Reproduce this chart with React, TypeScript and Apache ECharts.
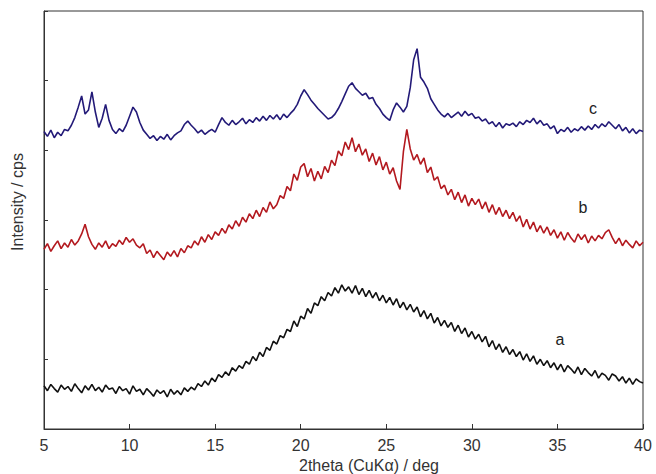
import React, { useEffect, useRef } from "react";
import * as echarts from "echarts";

const xTicks = [5, 10, 15, 20, 25, 30, 35, 40];

// Intensity (arbitrary cps units, offset traces), sampled every 0.2 deg from 5 to 40
const seriesA = [
  62, 55, 64, 58, 53, 63, 57, 61, 54, 65, 58,
  52, 62, 56, 64, 55, 60, 53, 63, 57, 59,
  51, 61, 55, 58, 50, 62, 54, 57,
  49, 58, 53, 47, 56, 51, 55, 46, 57, 50,
  55, 49, 59, 54, 60,
  56, 65, 61, 69, 63,
  73, 68, 78, 74,
  82, 77, 88, 83, 91,
  87, 97, 93, 104, 98,
  110, 104, 117, 113, 126,
  122, 134, 131, 143, 140,
  155, 147, 162, 158,
  173, 166, 181, 177, 190,
  184, 196, 191, 203, 195,
  207, 198, 204, 195, 206,
  193, 202, 190, 199, 188,
  196, 184, 192, 181, 189,
  178, 187, 174, 182, 171,
  179, 168, 175, 161, 170,
  158, 166, 152, 160, 148,
  156, 146, 153, 140, 149,
  137, 145, 132, 140, 129,
  136, 125, 133, 118, 127,
  114, 122, 110, 118, 107,
  114, 104, 111, 99, 108,
  97, 105, 93, 100, 91,
  98, 88, 95, 85, 93,
  82, 91, 86, 80, 89,
  78, 87, 81, 76, 84,
  73, 80, 77, 70, 79,
  76, 69, 75, 66, 73,
  64, 72, 68, 66,
];

const seriesB = [
  258, 266, 255, 263, 270, 259, 267, 261, 272, 264, 270,
  280, 294, 276, 265,
  258, 267, 261, 270, 259, 266,
  262, 271, 265, 275, 268, 273,
  264, 260, 266, 252, 257,
  246, 255, 249, 243, 254, 248,
  256, 247, 259, 253, 263,
  260, 270, 264, 276, 268, 279,
  272, 283, 278, 288, 281, 293, 287,
  299, 291, 304, 297, 309, 302,
  314, 305, 318, 311, 326, 316,
  322, 335, 331, 348, 342,
  366, 357, 376,
  381, 362, 374, 356, 370, 359,
  377, 368, 386, 378, 399,
  392, 412, 401, 418, 398,
  409, 393, 402, 384, 396,
  379, 391, 372, 383, 366,
  375, 356, 344,
  398, 430,
  402, 386, 394, 380, 389,
  368, 376, 357, 362, 345,
  350, 336, 344, 329, 340,
  325, 336, 320, 331, 322,
  330, 316, 326, 311, 322,
  308, 318, 305, 314, 302,
  311, 298, 306, 290, 301,
  287, 297, 283, 292, 281,
  290, 278, 286, 274, 283,
  271, 282, 274, 268, 280,
  272, 279, 267, 277, 270,
  278, 273, 282, 286, 275,
  266, 274, 263, 271, 265,
  260, 270, 263, 268,
];

const seriesC = [
  427, 420, 429, 418, 426, 421, 430,
  428, 436, 447,
  462, 478,
  452, 458, 484, 455, 433, 446, 466, 443, 430,
  424, 431, 427,
  436, 449, 462, 455, 440, 429,
  423, 417, 421, 414, 420,
  416, 423, 415, 421, 425,
  428, 437, 442, 436,
  431, 425, 429, 423, 427,
  430, 426, 437, 447,
  440, 436, 443, 437, 441,
  446, 438, 444, 440, 447,
  442, 449, 443, 450, 445,
  451, 444, 452, 447, 453,
  458, 466, 478,
  487, 480,
  472, 466, 460,
  455, 450, 445, 447,
  452, 460,
  470, 481,
  492, 497,
  489, 484, 479,
  482, 474, 476,
  466, 460, 452, 447, 443,
  458, 468,
  462, 455,
  463, 490, 530, 546, 505, 498, 489,
  474, 466, 458, 452,
  448, 453, 447, 451, 455,
  449, 456, 450, 453, 446,
  448, 442, 445, 438, 441,
  434, 440, 432, 438, 436,
  439, 434, 441, 437, 443,
  440, 446, 438, 443, 436,
  438, 431, 435, 424, 430,
  427, 433, 426, 431, 428,
  434, 429, 435, 430, 437,
  432, 438, 434, 441, 436,
  431, 437, 428, 433, 425,
  431, 424, 429, 427,
];

const traceLabels = ["a", "b", "c"];
const traceColors = ["#111111", "#b3191f", "#231a78"];

const X_MIN = 5;
const X_MAX = 40;

function toPairs(vals: number[]) {
  const n = vals.length;
  return vals.map((v, i) => [X_MIN + (i * (X_MAX - X_MIN)) / (n - 1), v]);
}

export default function App() {
  const ref = useRef<HTMLDivElement>(null);
  useEffect(() => {
    if (!ref.current) return;
    document.body.style.margin = "0";
    const chart = echarts.init(ref.current, undefined, { renderer: "svg" });
    const font = "Liberation Sans, Arial, sans-serif";
    const all = [seriesA, seriesB, seriesC];
    const lbl = (text: string, x: number, y: number) => ({
      type: "text",
      x,
      y,
      style: { text, fontFamily: font, fontSize: 16, fill: "#222", align: "center", verticalAlign: "middle" },
    });
    chart.setOption({
      animation: false,
      backgroundColor: "#ffffff",
      grid: {
        left: 44,
        right: 13,
        top: 11,
        bottom: 45,
        show: true,
        borderColor: "#333",
        borderWidth: 1,
      },
      xAxis: {
        type: "value",
        min: 5,
        max: 40,
        interval: 5,
        axisLine: { show: true, lineStyle: { color: "#333", width: 1 } },
        axisTick: { show: true, inside: true, length: 5, lineStyle: { color: "#333" } },
        axisLabel: {
          fontFamily: font,
          fontSize: 16,
          color: "#333",
          margin: 8,
          formatter: (v: number) => (xTicks.includes(v) ? String(v) : ""),
        },
        splitLine: { show: false },
      },
      yAxis: {
        type: "value",
        min: 0,
        max: 600,
        interval: 100,
        axisLine: { show: true, lineStyle: { color: "#333", width: 1 } },
        axisTick: { show: true, inside: true, length: 4, lineStyle: { color: "#333" } },
        axisLabel: { show: false },
        splitLine: { show: false },
      },
      series: all.map((vals, k) => ({
        type: "line",
        name: traceLabels[k],
        data: toPairs(vals),
        showSymbol: false,
        symbol: "none",
        lineStyle: { color: traceColors[k], width: 1.6 },
        z: 3 - k,
      })),
      graphic: [
        {
          type: "text",
          x: 17,
          y: 202,
          rotation: Math.PI / 2,
          style: {
            text: "Intensity / cps",
            fontFamily: font,
            fontSize: 16,
            fill: "#333",
            align: "center",
            verticalAlign: "middle",
          },
        },
        {
          type: "text",
          x: 369,
          y: 465,
          style: {
            text: "2theta (CuK\u03b1) / deg",
            fontFamily: font,
            fontSize: 16,
            fill: "#333",
            align: "center",
            verticalAlign: "middle",
          },
        },
        lbl("a", 560, 339),
        lbl("b", 583, 207),
        lbl("c", 593, 108),
      ],
    });
    return () => chart.dispose();
  }, []);
  return <div ref={ref} style={{ width: 656, height: 474 }} />;
}
